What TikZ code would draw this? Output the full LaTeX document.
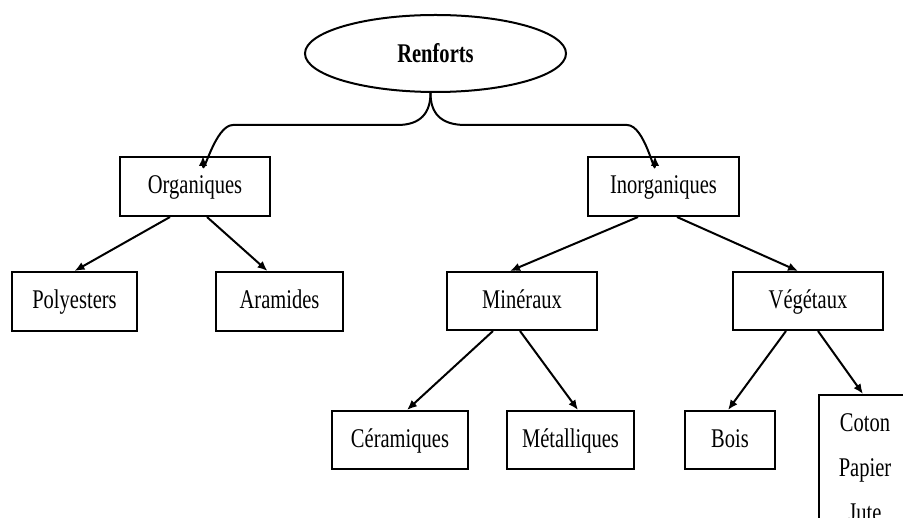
\documentclass[tikz,border=0pt]{standalone}
\usepackage{fontspec}
\setmainfont{Liberation Serif}[FakeStretch=0.76]
\usetikzlibrary{shapes.geometric,arrows.meta,calc}
\begin{document}
\begin{tikzpicture}[x=1pt,y=-1pt,
  every node/.style={font=\fontsize{27}{45}\selectfont},
  box/.style={draw,line width=2pt,rectangle,inner sep=0pt,text height=18pt,text depth=3pt},
  con/.style={line width=2pt,-{Latex[length=10pt,width=8.5pt]}}]
\clip (0,0) rectangle (903,518);
\useasboundingbox (0,0) rectangle (903,518);
\node[draw,line width=2pt,ellipse,minimum width=261pt,minimum height=77pt,inner sep=0pt,font=\fontsize{27}{30}\selectfont\bfseries] (ren) at (435.5,53.5) {Renforts};
\node[box,minimum width=150pt,minimum height=59pt] (org) at (195,186.5) {Organiques};
\node[box,minimum width=151pt,minimum height=59pt] (ino) at (663.5,186.5) {Inorganiques};
\node[box,minimum width=125pt,minimum height=59pt] (pol) at (74.5,301.5) {Polyesters};
\node[box,minimum width=127pt,minimum height=59pt] (ara) at (279.5,301.5) {Aramides};
\node[box,minimum width=150pt,minimum height=58pt] (min) at (522,301) {Minéraux};
\node[box,minimum width=150pt,minimum height=58pt] (veg) at (808,301) {Végétaux};
\node[box,minimum width=136pt,minimum height=58pt] (cer) at (400,440) {Céramiques};
\node[box,minimum width=127pt,minimum height=58pt] (met) at (570.5,440) {Métalliques};
\node[box,minimum width=90pt,minimum height=58pt] (boi) at (730,440) {Bois};
\node[draw,line width=2pt,rectangle,inner sep=0pt,minimum width=160pt,minimum height=160pt,anchor=north west] (cot) at (818,394) {};
\node[anchor=center] (cottext) at (865,468) {\begin{tabular}{@{}c@{}}Coton\\Papier\\Jute\end{tabular}};
\coordinate (tip) at ([xshift=-5pt]ren.south);
\draw[con] (tip) .. controls ($(tip)+(0,20)$) and ($(tip)+(-10,32)$) .. ($(tip)+(-33,32)$)
  -- (233,125) .. controls (215,125) and ([xshift=8pt,yshift=-22pt]org.north) .. ([xshift=8pt]org.north);
\draw[con] (tip) .. controls ($(tip)+(0,20)$) and ($(tip)+(10,32)$) .. ($(tip)+(35,32)$)
  -- (627,125) .. controls (645,125) and ([xshift=-8.5pt,yshift=-22pt]ino.north) .. ([xshift=-8.5pt]ino.north);
\draw[con] ([xshift=-25pt]org.south) -- (pol.north);
\draw[con] ([xshift=12pt]org.south) -- ([xshift=-12pt]ara.north);
\draw[con] ([xshift=-25.5pt]ino.south) -- ([xshift=-12pt]min.north);
\draw[con] ([xshift=13.5pt]ino.south) -- ([xshift=-10pt]veg.north);
\draw[con] ([xshift=-29pt]min.south) -- ([xshift=7pt]cer.north);
\draw[con] ([xshift=-2pt]min.south) -- ([xshift=7.5pt]met.north);
\draw[con] ([xshift=-22pt]veg.south) -- ([xshift=-2pt]boi.north);
\draw[con] ([xshift=10pt]veg.south) -- ([xshift=45pt]cot.north west);
\end{tikzpicture}
\end{document}
